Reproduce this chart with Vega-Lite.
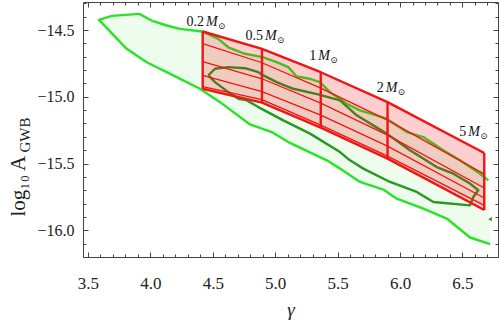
{
 "$schema": "https://vega.github.io/schema/vega-lite/v6.json",
 "width": 415, "height": 255,
 "autosize": {"type": "none"},
 "padding": {"left": 83, "top": 2, "right": 2, "bottom": 67},
 "config": {
  "view": {"stroke": "#444", "strokeWidth": 1},
  "font": "Liberation Serif",
  "axis": {"grid": false, "domain": false, "tickColor": "#444", "labelColor": "#222", "titleColor": "#222", "labelFont": "Liberation Serif", "titleFont": "Liberation Serif", "titleFontWeight": "normal"}
 },
 "datasets": {
  "outer": [
   {"g":6.721,"y":-16.104,"o":0},{"g":6.561,"y":-16.054,"o":1},{"g":6.374,"y":-15.912,"o":2},{"g":6.187,"y":-15.837,"o":3},
   {"g":5.974,"y":-15.763,"o":4},{"g":5.866,"y":-15.695,"o":5},{"g":5.679,"y":-15.638,"o":6},{"g":5.519,"y":-15.538,"o":7},
   {"g":5.413,"y":-15.476,"o":8},{"g":5.105,"y":-15.339,"o":9},{"g":4.972,"y":-15.264,"o":10},{"g":4.798,"y":-15.207,"o":11},
   {"g":4.558,"y":-15.040,"o":12},{"g":4.397,"y":-14.940,"o":13},{"g":4.211,"y":-14.853,"o":14},{"g":3.970,"y":-14.741,"o":15},
   {"g":3.810,"y":-14.641,"o":16},{"g":3.588,"y":-14.424,"o":17},{"g":3.690,"y":-14.394,"o":18},{"g":3.911,"y":-14.379,"o":19},
   {"g":4.010,"y":-14.429,"o":20},{"g":4.131,"y":-14.466,"o":21},{"g":4.237,"y":-14.491,"o":22},{"g":4.416,"y":-14.511,"o":23},
   {"g":4.544,"y":-14.566,"o":24},{"g":4.624,"y":-14.629,"o":25},{"g":4.758,"y":-14.678,"o":26},{"g":4.900,"y":-14.703,"o":27},
   {"g":5.012,"y":-14.741,"o":28},{"g":5.105,"y":-14.778,"o":29},{"g":5.172,"y":-14.848,"o":30},{"g":5.279,"y":-14.865,"o":31},
   {"g":5.359,"y":-14.890,"o":32},{"g":5.439,"y":-14.965,"o":33},{"g":5.573,"y":-15.052,"o":34},{"g":5.679,"y":-15.102,"o":35},
   {"g":5.893,"y":-15.164,"o":36},{"g":6.054,"y":-15.264,"o":37},{"g":6.187,"y":-15.302,"o":38},{"g":6.347,"y":-15.401,"o":39},
   {"g":6.481,"y":-15.476,"o":40},{"g":6.641,"y":-15.576,"o":41},{"g":6.708,"y":-15.626,"o":42}
  ],
  "inner": [
   {"g":4.464,"y":-14.840,"o":0},{"g":4.518,"y":-14.790,"o":1},{"g":4.624,"y":-14.778,"o":2},{"g":4.758,"y":-14.786,"o":3},
   {"g":4.865,"y":-14.816,"o":4},{"g":4.905,"y":-14.840,"o":5},{"g":5.012,"y":-14.890,"o":6},{"g":5.145,"y":-14.940,"o":7},
   {"g":5.343,"y":-14.982,"o":8},{"g":5.519,"y":-15.027,"o":9},{"g":5.653,"y":-15.139,"o":10},{"g":5.893,"y":-15.276,"o":11},
   {"g":6.080,"y":-15.401,"o":12},{"g":6.294,"y":-15.526,"o":13},{"g":6.427,"y":-15.576,"o":14},{"g":6.561,"y":-15.650,"o":15},
   {"g":6.627,"y":-15.700,"o":16},{"g":6.587,"y":-15.751,"o":17},{"g":6.561,"y":-15.813,"o":18},{"g":6.267,"y":-15.788,"o":19},
   {"g":6.134,"y":-15.713,"o":20},{"g":5.920,"y":-15.638,"o":21},{"g":5.706,"y":-15.538,"o":22},{"g":5.599,"y":-15.476,"o":23},
   {"g":5.519,"y":-15.414,"o":24},{"g":5.279,"y":-15.276,"o":25},{"g":5.065,"y":-15.177,"o":26},{"g":4.865,"y":-15.077,"o":27},
   {"g":4.772,"y":-15.027,"o":28},{"g":4.705,"y":-15.015,"o":29},{"g":4.624,"y":-14.965,"o":30},{"g":4.518,"y":-14.890,"o":31},
   {"g":4.464,"y":-14.840,"o":32}
  ],
  "dot": [{"g":6.721,"y":-15.917}],
  "band": [
   {"g":4.419,"top":-14.511,"bot":-14.940},
   {"g":4.894,"top":-14.641,"bot":-15.044},
   {"g":5.365,"top":-14.816,"bot":-15.231},
   {"g":5.900,"top":-15.040,"bot":-15.463},
   {"g":6.675,"top":-15.421,"bot":-15.848}
  ],
  "grid": [
   {"k":"c1","t":"edge","o":0,"g":4.419,"y":-14.511},{"k":"c1","t":"edge","o":1,"g":4.894,"y":-14.641},{"k":"c1","t":"edge","o":2,"g":5.365,"y":-14.816},{"k":"c1","t":"edge","o":3,"g":5.900,"y":-15.040},{"k":"c1","t":"edge","o":4,"g":6.675,"y":-15.421},
   {"k":"c2","t":"inner","o":0,"g":4.419,"y":-14.601},{"k":"c2","t":"inner","o":1,"g":4.894,"y":-14.745},{"k":"c2","t":"inner","o":2,"g":5.365,"y":-14.935},{"k":"c2","t":"inner","o":3,"g":5.900,"y":-15.175},{"k":"c2","t":"inner","o":4,"g":6.675,"y":-15.579},
   {"k":"c3","t":"inner","o":0,"g":4.419,"y":-14.736},{"k":"c3","t":"inner","o":1,"g":4.894,"y":-14.865},{"k":"c3","t":"inner","o":2,"g":5.365,"y":-15.047},{"k":"c3","t":"inner","o":3,"g":5.900,"y":-15.287},{"k":"c3","t":"inner","o":4,"g":6.675,"y":-15.683},
   {"k":"c4","t":"inner","o":0,"g":4.419,"y":-14.840},{"k":"c4","t":"inner","o":1,"g":4.894,"y":-14.962},{"k":"c4","t":"inner","o":2,"g":5.365,"y":-15.137},{"k":"c4","t":"inner","o":3,"g":5.900,"y":-15.369},{"k":"c4","t":"inner","o":4,"g":6.675,"y":-15.758},
   {"k":"c5","t":"inner","o":0,"g":4.419,"y":-14.923},{"k":"c5","t":"inner","o":1,"g":4.894,"y":-15.022},{"k":"c5","t":"inner","o":2,"g":5.365,"y":-15.212},{"k":"c5","t":"inner","o":3,"g":5.900,"y":-15.444},{"k":"c5","t":"inner","o":4,"g":6.675,"y":-15.813},
   {"k":"c6","t":"edge","o":0,"g":4.419,"y":-14.940},{"k":"c6","t":"edge","o":1,"g":4.894,"y":-15.044},{"k":"c6","t":"edge","o":2,"g":5.365,"y":-15.231},{"k":"c6","t":"edge","o":3,"g":5.900,"y":-15.463},{"k":"c6","t":"edge","o":4,"g":6.675,"y":-15.848},
   {"k":"v1","t":"edge","o":0,"g":4.419,"y":-14.511},{"k":"v1","t":"edge","o":1,"g":4.419,"y":-14.940},
   {"k":"v2","t":"edge","o":0,"g":4.894,"y":-14.641},{"k":"v2","t":"edge","o":1,"g":4.894,"y":-15.044},
   {"k":"v3","t":"edge","o":0,"g":5.365,"y":-14.816},{"k":"v3","t":"edge","o":1,"g":5.365,"y":-15.231},
   {"k":"v4","t":"edge","o":0,"g":5.900,"y":-15.040},{"k":"v4","t":"edge","o":1,"g":5.900,"y":-15.463},
   {"k":"v5","t":"edge","o":0,"g":6.675,"y":-15.421},{"k":"v5","t":"edge","o":1,"g":6.675,"y":-15.848}
  ],
  "labels": [
   {"g":4.445,"y":-14.442,"num":"0.2"},
   {"g":4.918,"y":-14.541,"num":"0.5"},
   {"g":5.345,"y":-14.691,"num":"1"},
   {"g":5.885,"y":-14.932,"num":"2"},
   {"g":6.547,"y":-15.264,"num":"5"}
  ]
 },
 "layer": [
  {
   "data": {"name": "outer"},
   "mark": {"type": "line", "fill": "#edfced", "stroke": "#27e427", "strokeWidth": 2.4, "strokeJoin": "round"},
   "encoding": {
    "x": {"field": "g", "type": "quantitative", "scale": {"domain": [3.46, 6.785], "nice": false, "zero": false},
     "axis": {"values": [3.5, 4, 4.5, 5, 5.5, 6, 6.5], "format": ".1f", "tickSize": -5, "labelPadding": 23, "labelFont": "Liberation Serif", "labelFontSize": 17, "title": "γ", "titleFont": "Liberation Serif", "titleFontStyle": "italic", "titleFontSize": 19, "titlePadding": 9}},
    "y": {"field": "y", "type": "quantitative", "scale": {"domain": [-16.2, -14.29], "nice": false, "zero": false},
     "axis": {"values": [-16, -15.5, -15, -14.5], "format": ".1f", "tickSize": -5, "labelPadding": 14, "labelFont": "Liberation Serif", "labelFontSize": 16, "title": "log₁₀ A", "titleFont": "Liberation Serif", "titleFontSize": 21, "titleAngle": -90, "titleX": -59, "titleY": 214, "titleAlign": "left", "titleBaseline": "alphabetic"}},
    "order": {"field": "o", "type": "quantitative"}
   }
  },
  {
   "data": {"name": "inner"},
   "mark": {"type": "line", "stroke": "#2a9624", "strokeWidth": 2.4, "strokeJoin": "round"},
   "encoding": {
    "x": {"field": "g", "type": "quantitative", "axis": {"orient": "top", "values": [3.5, 4, 4.5, 5, 5.5, 6, 6.5], "tickSize": -5, "labels": false, "title": null}},
    "y": {"field": "y", "type": "quantitative", "axis": {"orient": "right", "values": [-16, -15.5, -15, -14.5], "tickSize": -5, "labels": false, "title": null}},
    "order": {"field": "o", "type": "quantitative"}
   }
  },
  {
   "data": {"name": "dot"},
   "mark": {"type": "point", "shape": "triangle-left", "filled": true, "color": "#2a9624", "size": 18, "opacity": 1},
   "encoding": {
    "x": {"field": "g", "type": "quantitative", "axis": null},
    "y": {"field": "y", "type": "quantitative", "axis": null}
   }
  },
  {
   "data": {"name": "band"},
   "mark": {"type": "area", "color": "#ff0000", "opacity": 0.19},
   "encoding": {
    "x": {"field": "g", "type": "quantitative", "axis": {"values": [3.5,3.6,3.7,3.8,3.9,4.0,4.1,4.2,4.3,4.4,4.5,4.6,4.7,4.8,4.9,5.0,5.1,5.2,5.3,5.4,5.5,5.6,5.7,5.8,5.9,6.0,6.1,6.2,6.3,6.4,6.5,6.6,6.7], "tickSize": -3, "labels": false, "title": null}},
    "y": {"field": "top", "type": "quantitative", "axis": {"values": [-16.2,-16.1,-16.0,-15.9,-15.8,-15.7,-15.6,-15.5,-15.4,-15.3,-15.2,-15.1,-15.0,-14.9,-14.8,-14.7,-14.6,-14.5,-14.4,-14.3], "tickSize": -3, "labels": false, "title": "GWB", "titleFont": "Liberation Serif", "titleFontSize": 15, "titleAngle": -90, "titleX": -54, "titleY": 150, "titleAlign": "left", "titleBaseline": "alphabetic"}},
    "y2": {"field": "bot"}
   }
  },
  {
   "data": {"name": "grid"},
   "transform": [{"filter": "datum.t === 'inner'"}],
   "mark": {"type": "line", "stroke": "#f01414", "strokeWidth": 1.3},
   "encoding": {
    "x": {"field": "g", "type": "quantitative", "axis": {"orient": "top", "values": [3.5,3.6,3.7,3.8,3.9,4.0,4.1,4.2,4.3,4.4,4.5,4.6,4.7,4.8,4.9,5.0,5.1,5.2,5.3,5.4,5.5,5.6,5.7,5.8,5.9,6.0,6.1,6.2,6.3,6.4,6.5,6.6,6.7], "tickSize": -3, "labels": false, "title": null}},
    "y": {"field": "y", "type": "quantitative", "axis": {"orient": "right", "values": [-16.2,-16.1,-16.0,-15.9,-15.8,-15.7,-15.6,-15.5,-15.4,-15.3,-15.2,-15.1,-15.0,-14.9,-14.8,-14.7,-14.6,-14.5,-14.4,-14.3], "tickSize": -3, "labels": false, "title": null}},
    "detail": {"field": "k"},
    "order": {"field": "o", "type": "quantitative"}
   }
  },
  {
   "data": {"name": "grid"},
   "transform": [{"filter": "datum.t === 'edge'"}],
   "mark": {"type": "line", "stroke": "#f01414", "strokeWidth": 2.4, "strokeJoin": "round"},
   "encoding": {
    "x": {"field": "g", "type": "quantitative", "axis": null},
    "y": {"field": "y", "type": "quantitative", "axis": null},
    "detail": {"field": "k"},
    "order": {"field": "o", "type": "quantitative"}
   }
  },
  {
   "data": {"name": "labels"},
   "mark": {"type": "text", "align": "right", "baseline": "middle", "dx": -2, "font": "Liberation Serif", "fontSize": 14, "color": "#111"},
   "encoding": {
    "x": {"field": "g", "type": "quantitative", "axis": null},
    "y": {"field": "y", "type": "quantitative", "axis": null},
    "text": {"field": "num"}
   }
  },
  {
   "data": {"name": "labels"},
   "mark": {"type": "text", "align": "left", "baseline": "middle", "font": "Liberation Serif", "fontStyle": "italic", "fontSize": 14, "color": "#111"},
   "encoding": {
    "x": {"field": "g", "type": "quantitative", "axis": null},
    "y": {"field": "y", "type": "quantitative", "axis": null},
    "text": {"value": "M"}
   }
  },
  {
   "data": {"name": "labels"},
   "mark": {"type": "text", "align": "left", "baseline": "middle", "dx": 12, "dy": 4, "font": "DejaVu Serif", "fontSize": 9, "color": "#111"},
   "encoding": {
    "x": {"field": "g", "type": "quantitative", "axis": null},
    "y": {"field": "y", "type": "quantitative", "axis": null},
    "text": {"value": "⊙"}
   }
  }
 ],
 "resolve": {"axis": {"x": "independent", "y": "independent"}}
}
